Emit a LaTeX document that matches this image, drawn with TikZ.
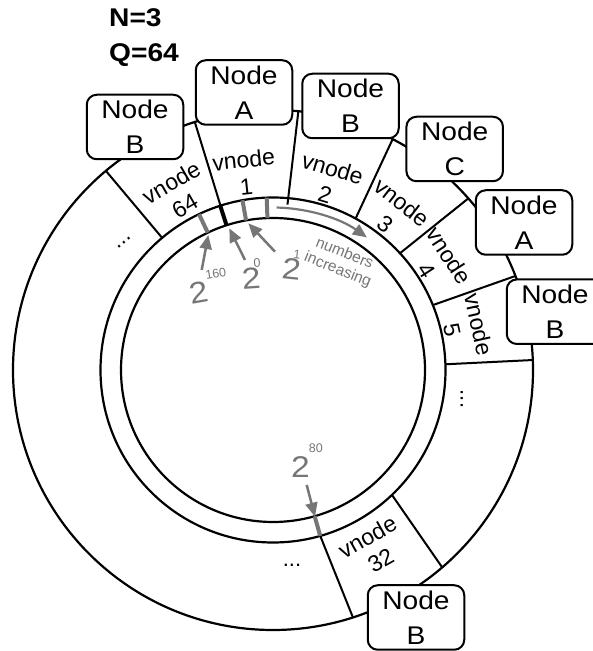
\documentclass[tikz,border=0pt]{standalone}
\usepackage{fontspec}
\setmainfont{Liberation Sans}
\newfontfamily\wideface{Liberation Sans}[FakeStretch=1.1]
\newfontfamily\twoface{Liberation Sans}[FakeStretch=1.12]
\usetikzlibrary{arrows.meta,calc}
\definecolor{tickgray}{RGB}{118,118,118}
\newcommand\powlab[3]{{\twoface\fontsize{30}{30}\selectfont 2}\kern#1pt\raisebox{#2pt}{\fontsize{12.5}{12.5}\selectfont #3}}
\begin{document}
\begin{tikzpicture}[x=1pt,y=1pt,
  ring/.style={line width=2.2pt},
  sepline/.style={line width=2pt},
  nodebox/.style={draw,line width=2pt,rounded corners=10pt,fill=white,minimum width=96.5pt,minimum height=64.5pt,inner sep=0pt,align=center,font=\wideface\fontsize{25.6}{35}\selectfont},
  vlabel/.style={align=center,inner sep=0pt,font=\fontsize{23}{27}\selectfont},
  dots/.style={inner sep=0pt,font=\fontsize{22}{22}\selectfont},
  graytick/.style={line width=4pt,draw=tickgray},
  blacktick/.style={line width=4pt,draw=black},
  grayarrow/.style={draw=tickgray,line width=2.5pt,-{Triangle[length=14pt,width=12pt]}},
  powlabel/.style={inner sep=0pt,anchor=base west,text=tickgray},
  title/.style={inner sep=0pt,anchor=base west,font=\wideface\bfseries\fontsize{25.6}{35}\selectfont}
]
\useasboundingbox (0,0) rectangle (593,651);
\clip (0,0) rectangle (593,651);
\coordinate (C) at (273,281);

% circles
\draw[ring] (C) circle[radius=260pt];
\draw[ring] (C) circle[radius=172.5pt];
\draw[ring] (C) circle[radius=152pt];

% separator end points
\coordinate (s1i) at ($(C)+(130:172.5pt)$);  \coordinate (s1o) at ($(C)+(130:260pt)$);
\coordinate (s2i) at ($(C)+(107.8:152pt)$);  \coordinate (s2m) at ($(C)+(107.8:172.5pt)$); \coordinate (s2o) at ($(C)+(107.5:260pt)$);
\coordinate (s3i) at ($(C)+(85:166pt)$);     \coordinate (s3o) at ($(C)+(84.4:260pt)$);
\coordinate (s4i) at ($(C)+(61.4:172.5pt)$); \coordinate (s4o) at ($(C)+(62.6:260pt)$);
\coordinate (s5i) at ($(C)+(42.6:172.5pt)$); \coordinate (s5o) at ($(C)+(41.3:260pt)$);
\coordinate (s6i) at ($(C)+(22.1:172.5pt)$); \coordinate (s6o) at ($(C)+(21.2:260pt)$);
\coordinate (s7i) at ($(C)+(1.9:172.5pt)$);  \coordinate (s7o) at ($(C)+(2.2:260pt)$);
\coordinate (s8i) at ($(C)+(-46.4:172.5pt)$); \coordinate (s8o) at ($(C)+(-49.4:260pt)$);
\coordinate (s9i) at ($(C)+(-74.1:172.5pt)$); \coordinate (s9o) at ($(C)+(-72.1:260pt)$);

\draw[sepline] (s1i) -- (s1o);
\draw[sepline] (s2i) -- (s2o);
\draw[sepline] (s3i) -- (s3o);
\draw[sepline] (s4i) -- (s4o);
\draw[sepline] (s5i) -- (s5o);
\draw[sepline] (s6i) -- (s6o);
\draw[sepline] (s7i) -- (s7o);
\draw[sepline] (s8i) -- (s8o);
\draw[sepline] (s9i) -- (s9o);

% ticks on the ring
\coordinate (t160i) at ($(C)+(115.4:152pt)$); \coordinate (t160o) at ($(C)+(115.4:172.5pt)$);
\coordinate (t1i) at ($(C)+(100.2:152pt)$);   \coordinate (t1o) at ($(C)+(100.2:172.5pt)$);
\coordinate (t2i) at ($(C)+(92.1:152pt)$);    \coordinate (t2o) at ($(C)+(92.1:172.5pt)$);
\coordinate (t80i) at ($(C)+(-74.1:152pt)$);  \coordinate (t80o) at ($(C)+(-74.1:172.5pt)$);
\draw[graytick] (t160i) -- (t160o);
\draw[blacktick] (s2i) -- (s2m);
\draw[graytick] (t1i) -- (t1o);
\draw[graytick] (t2i) -- (t2o);
\draw[graytick] (t80i) -- (t80o);

% numbers increasing arrow
\coordinate (incs) at ($(C)+(88.7:162.5pt)$);
\draw[grayarrow,line width=2.2pt] (incs) arc[start angle=88.7,end angle=54.7,radius=162.5pt];
\node[text=tickgray,align=center,inner sep=0pt,rotate=-22,font=\fontsize{15.5}{17.5}\selectfont] (incl) at (341,389) {numbers\\increasing};

% power labels
\node[powlabel,rotate=10] (l160) at (191,346) {\powlab{0.5}{22}{160}};
\node[powlabel,rotate=4] (l0) at (242.5,361) {\powlab{-6}{22}{0}};
\node[powlabel,rotate=-6] (l1) at (281,372.7) {\powlab{-9}{21}{1}};
\node[powlabel] (l80) at (291,173) {\powlab{-1}{25}{80}};

\coordinate (a160s) at (201.7,381); \coordinate (a160t) at (208.3,416);
\coordinate (a0s) at (245,391);     \coordinate (a0t) at (229.3,422.7);
\coordinate (a1s) at (275,399.3);   \coordinate (a1t) at (248.3,427.7);
\coordinate (a80s) at (306.7,166);  \coordinate (a80t) at (315,134.3);
\draw[grayarrow] (a160s) -- (a160t);
\draw[grayarrow] (a0s) -- (a0t);
\draw[grayarrow] (a1s) -- (a1t);
\draw[grayarrow] (a80s) -- (a80t);

% vnode labels
\node[vlabel,rotate=30] (v64) at (178,457) {vnode\\64};
\node[vlabel,rotate=6] (v1) at (245,478) {vnode\\1};
\node[vlabel,rotate=-16.5] (v2) at (329,470) {vnode\\2};
\node[vlabel,rotate=-37.6] (v3) at (394,438) {vnode\\3};
\node[vlabel,rotate=-57] (v4) at (438,388) {vnode\\4};
\node[vlabel,rotate=-77.5] (v5) at (465.5,323.5) {vnode\\5};
\node[vlabel,rotate=29.5] (v32) at (374,102.5) {vnode\\32};

% ellipses
\node[dots,rotate=40] (d1) at (124,408) {...};
\node[dots,rotate=-90] (d2) at (461.7,252) {...};
\node[dots] (d3) at (292,86) {...};

% physical node boxes
\node[nodebox] (nb1) at (135,524) {Node\\B};
\node[nodebox] (na1) at (244,558.5) {Node\\A};
\node[nodebox] (nb2) at (350.5,545) {Node\\B};
\node[nodebox] (nc) at (454.7,502) {Node\\C};
\node[nodebox] (na2) at (524,428.5) {Node\\A};
\node[nodebox] (nb3) at (555,339.3) {Node\\B};
\node[nodebox] (nb4) at (416,33.5) {Node\\B};

% title
\node[title] (tn) at (109,624.3) {N=3};
\node[title] (tq) at (109,589.3) {Q=64};
\end{tikzpicture}
\end{document}
